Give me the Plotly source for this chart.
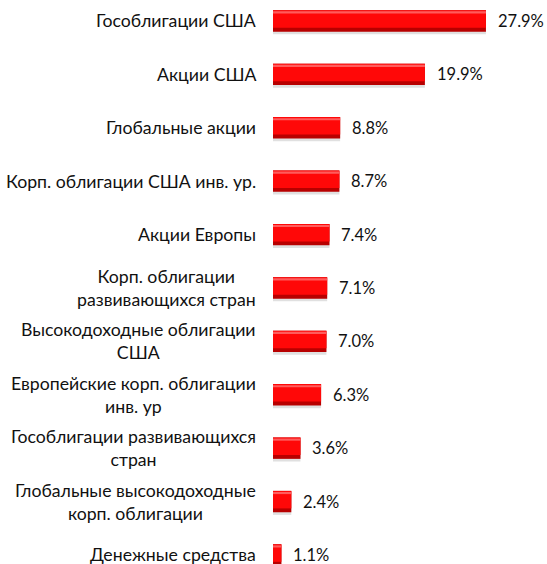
import plotly.graph_objects as go

categories = [
    "Гособлигации США",
    "Акции США",
    "Глобальные акции",
    "Корп. облигации США инв. ур.",
    "Акции Европы",
    "Корп. облигации<br>развивающихся стран",
    "Высокодоходные облигации<br>США",
    "Европейские корп. облигации<br>инв. ур",
    "Гособлигации развивающихся<br>стран",
    "Глобальные высокодоходные<br>корп. облигации",
    "Денежные средства",
]
values = [27.9, 19.9, 8.8, 8.7, 7.4, 7.1, 7.0, 6.3, 3.6, 2.4, 1.1]

FONT = "Lato"
pos = list(range(len(categories)))
bw = 0.40

fig = go.Figure()
# soft grey drop shadow
fig.add_trace(go.Bar(
    y=pos, x=values, orientation="h", width=bw, offset=-bw / 2 + 0.05,
    marker=dict(color="rgba(0,0,0,0.12)", line=dict(width=0)),
    hoverinfo="skip",
))
# dark lower edge
fig.add_trace(go.Bar(
    y=pos, x=values, orientation="h", width=bw, offset=-bw / 2,
    marker=dict(color="#b80000", line=dict(width=0)),
    hoverinfo="skip",
))
# main red face
fig.add_trace(go.Bar(
    y=pos, x=values, orientation="h", width=bw * 0.82, offset=-bw / 2,
    marker=dict(color="#ff0808", line=dict(width=0)),
    hoverinfo="skip",
))
# light highlight along the top edge
fig.add_trace(go.Bar(
    y=pos, x=values, orientation="h", width=bw * 0.10, offset=-bw / 2 + bw * 0.05,
    marker=dict(color="#ff5c5c", line=dict(width=0)),
    hoverinfo="skip",
))

for i, (c, v) in enumerate(zip(categories, values)):
    fig.add_annotation(
        x=0, xref="paper", y=i, yref="y", text=c, showarrow=False,
        xanchor="right", xshift=-15, align="center",
        font=dict(family=FONT, size=17.7, color="#111111"),
    )
    fig.add_annotation(
        x=v, xref="x", y=i, yref="y", text=f"{v:.1f}%", showarrow=False,
        xanchor="left", xshift=10, align="left",
        font=dict(family=FONT, size=16.5, color="#111111"),
    )

fig.update_layout(
    width=547, height=564,
    margin=dict(l=273, r=0, t=0, b=0),
    paper_bgcolor="white", plot_bgcolor="white",
    barmode="overlay", showlegend=False,
    xaxis=dict(range=[0, 35.9], visible=False, fixedrange=True),
    yaxis=dict(range=[10.169, -0.393], visible=False, fixedrange=True),
)

fig.write_html("out.html")
